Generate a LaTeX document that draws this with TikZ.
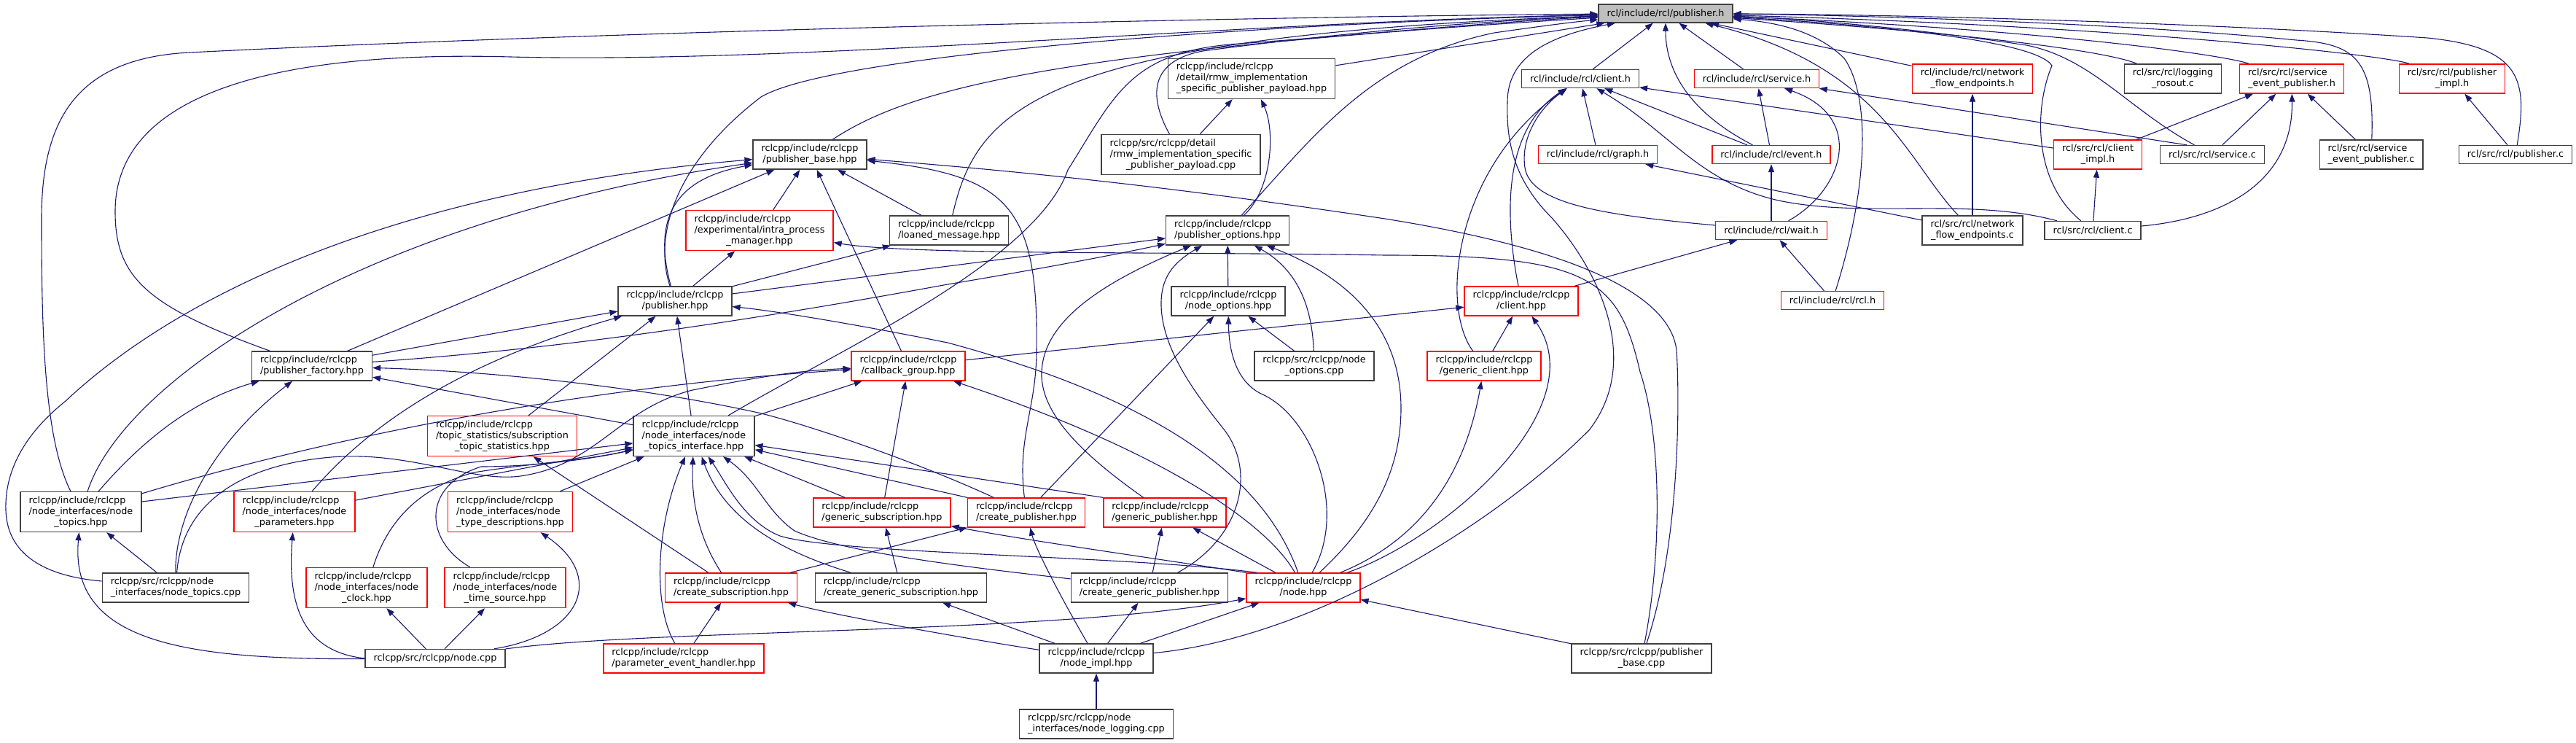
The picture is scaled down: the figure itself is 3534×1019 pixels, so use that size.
\documentclass[tikz,border=0pt]{standalone}
\usepackage{fontspec}
\setmainfont{DejaVu Sans}
\usepackage{tikz}
\usetikzlibrary{arrows.meta}

\definecolor{edgeblue}{HTML}{191970}
\definecolor{boxgrey}{HTML}{404040}
\definecolor{rootfill}{HTML}{BFBFBF}

% file labels: all lines left aligned, the last one centred
\newcommand{\fl}[1]{\begin{tabular}{@{}l@{}}#1\end{tabular}}
\newcommand{\lastline}[1]{\multicolumn{1}{@{}c@{}}{#1}}

\begin{document}
\begin{tikzpicture}[x=1pt, y=-1pt,
    file/.style={draw=boxgrey, line width=1.4pt, inner xsep=11.5pt, inner ysep=5pt,
      minimum height=25pt, font=\fontsize{12.8}{15}\selectfont},
    trunc/.style={file, draw=red},
    root/.style={file, fill=rootfill},
    inc/.style={draw=edgeblue, line width=1.1pt, -{Triangle[length=11pt,width=8pt]}}]
  \useasboundingbox (0,0) rectangle (3534,1019);

  % the header itself
  \node[root] (pub) at (2285,18.5) {rcl/include/rcl/publisher.h};

  % first level
  \node[file]  (rmwhpp)   at (1717,108) {\fl{rclcpp/include/rclcpp\\/detail/rmw\_implementation\\\lastline{\_specific\_publisher\_payload.hpp}}};
  \node[file]  (clienth)  at (2168,108) {rcl/include/rcl/client.h};
  \node[trunc] (serviceh) at (2410,108) {rcl/include/rcl/service.h};
  \node[trunc] (nfeh)     at (2706,108) {\fl{rcl/include/rcl/network\\\lastline{\_flow\_endpoints.h}}};
  \node[file]  (rosout)   at (2981,108) {\fl{rcl/src/rcl/logging\\\lastline{\_rosout.c}}};
  \node[trunc] (seph)     at (3144,108) {\fl{rcl/src/rcl/service\\\lastline{\_event\_publisher.h}}};
  \node[trunc] (pubimplh) at (3364,108) {\fl{rcl/src/rcl/publisher\\\lastline{\_impl.h}}};

  \node[file]  (pubbase)    at (1111,212) {\fl{rclcpp/include/rclcpp\\\lastline{/publisher\_base.hpp}}};
  \node[file]  (rmwcpp)     at (1620,212) {\fl{rclcpp/src/rclcpp/detail\\/rmw\_implementation\_specific\\\lastline{\_publisher\_payload.cpp}}};
  \node[trunc] (graphh)     at (2192,212) {rcl/include/rcl/graph.h};
  \node[trunc] (eventh)     at (2430,212) {rcl/include/rcl/event.h};
  \node[trunc] (clientimpl) at (2878,212) {\fl{rcl/src/rcl/client\\\lastline{\_impl.h}}};
  \node[file]  (servicec)   at (3035,212) {rcl/src/rcl/service.c};
  \node[file]  (sepc)       at (3253,212) {\fl{rcl/src/rcl/service\\\lastline{\_event\_publisher.c}}};
  \node[file]  (pubc)       at (3451,212) {rcl/src/rcl/publisher.c};

  \node[trunc] (ipm)     at (1042,316) {\fl{rclcpp/include/rclcpp\\/experimental/intra\_process\\\lastline{\_manager.hpp}}};
  \node[file]  (loaned)  at (1302,316) {\fl{rclcpp/include/rclcpp\\\lastline{/loaned\_message.hpp}}};
  \node[file]  (pubopts) at (1684,316) {\fl{rclcpp/include/rclcpp\\\lastline{/publisher\_options.hpp}}};
  \node[trunc] (waith)   at (2430,316) {rcl/include/rcl/wait.h};
  \node[file]  (nfec)    at (2706,316) {\fl{rcl/src/rcl/network\\\lastline{\_flow\_endpoints.c}}};
  \node[file]  (clientc) at (2871,316) {rcl/src/rcl/client.c};

  \node[file]  (publisher) at (926,413)  {\fl{rclcpp/include/rclcpp\\\lastline{/publisher.hpp}}};
  \node[file]  (nodeopts)  at (1685,413) {\fl{rclcpp/include/rclcpp\\\lastline{/node\_options.hpp}}};
  \node[trunc] (clienthpp) at (2087,413) {\fl{rclcpp/include/rclcpp\\\lastline{/client.hpp}}};
  \node[trunc] (rclh)      at (2514,412) {rcl/include/rcl/rcl.h};

  \node[file]  (pubfactory)  at (428,502)  {\fl{rclcpp/include/rclcpp\\\lastline{/publisher\_factory.hpp}}};
  \node[trunc] (cbgroup)     at (1246,502) {\fl{rclcpp/include/rclcpp\\\lastline{/callback\_group.hpp}}};
  \node[file]  (nodeoptscpp) at (1803,502) {\fl{rclcpp/src/rclcpp/node\\\lastline{\_options.cpp}}};
  \node[trunc] (genclient)   at (2036,502) {\fl{rclcpp/include/rclcpp\\\lastline{/generic\_client.hpp}}};

  \node[trunc] (topicstats) at (689,598) {\fl{rclcpp/include/rclcpp\\/topic\_statistics/subscription\\\lastline{\_topic\_statistics.hpp}}};
  \node[file]  (ntif)       at (952,598) {\fl{rclcpp/include/rclcpp\\/node\_interfaces/node\\\lastline{\_topics\_interface.hpp}}};

  \node[file]  (nodetopics) at (111,702)  {\fl{rclcpp/include/rclcpp\\/node\_interfaces/node\\\lastline{\_topics.hpp}}};
  \node[trunc] (nodeparams) at (404,702)  {\fl{rclcpp/include/rclcpp\\/node\_interfaces/node\\\lastline{\_parameters.hpp}}};
  \node[trunc] (typedesc)   at (700,702)  {\fl{rclcpp/include/rclcpp\\/node\_interfaces/node\\\lastline{\_type\_descriptions.hpp}}};
  \node[trunc] (gensub)     at (1210,703) {\fl{rclcpp/include/rclcpp\\\lastline{/generic\_subscription.hpp}}};
  \node[trunc] (createpub)  at (1408,703) {\fl{rclcpp/include/rclcpp\\\lastline{/create\_publisher.hpp}}};
  \node[trunc] (genpub)     at (1598,703) {\fl{rclcpp/include/rclcpp\\\lastline{/generic\_publisher.hpp}}};

  \node[file]  (nodetopicscpp) at (241,806)  {\fl{rclcpp/src/rclcpp/node\\\lastline{\_interfaces/node\_topics.cpp}}};
  \node[trunc] (nodeclock)     at (503,806)  {\fl{rclcpp/include/rclcpp\\/node\_interfaces/node\\\lastline{\_clock.hpp}}};
  \node[trunc] (timesource)    at (693,806)  {\fl{rclcpp/include/rclcpp\\/node\_interfaces/node\\\lastline{\_time\_source.hpp}}};
  \node[trunc] (createsub)     at (1003,806) {\fl{rclcpp/include/rclcpp\\\lastline{/create\_subscription.hpp}}};
  \node[file]  (creategensub)  at (1236,806) {\fl{rclcpp/include/rclcpp\\\lastline{/create\_generic\_subscription.hpp}}};
  \node[file]  (creategenpub)  at (1577,806) {\fl{rclcpp/include/rclcpp\\\lastline{/create\_generic\_publisher.hpp}}};
  \node[trunc] (nodehpp)       at (1788,806) {\fl{rclcpp/include/rclcpp\\\lastline{/node.hpp}}};

  \node[file]  (nodecpp)    at (597,903)  {rclcpp/src/rclcpp/node.cpp};
  \node[trunc] (peh)        at (938,903)  {\fl{rclcpp/include/rclcpp\\\lastline{/parameter\_event\_handler.hpp}}};
  \node[file]  (nodeimpl)   at (1504,903) {\fl{rclcpp/include/rclcpp\\\lastline{/node\_impl.hpp}}};
  \node[file]  (pubbasecpp) at (2252,903) {\fl{rclcpp/src/rclcpp/publisher\\\lastline{\_base.cpp}}};

  \node[file]  (nodelogging) at (1504,993) {\fl{rclcpp/src/rclcpp/node\\\lastline{\_interfaces/node\_logging.cpp}}};

  % includers of rcl/publisher.h
  \draw[inc] (nodetopics) .. controls (60,600) and (57,450) .. (57,300) .. controls (57,170) and (100,80) .. (260,72) .. controls (900,40) and (1800,22) .. (pub);
  \draw[inc] (pubfactory) .. controls (200,420) and (158,380) .. (158,290) .. controls (158,120) and (400,70) .. (700,78) .. controls (1100,88) and (1700,30) .. (pub);
  \draw[inc] (publisher) .. controls (895,320) and (930,220) .. (1044,133) .. controls (1150,70) and (1800,30) .. (pub);
  \draw[inc] (pubbase) .. controls (1250,120) and (1450,70) .. (pub);
  \draw[inc] (loaned) .. controls (1340,150) and (1420,50) .. (pub);
  \draw[inc] (ntif) .. controls (1150,480) and (1420,360) .. (1465,233) .. controls (1530,130) and (1550,70) .. (1700,60) .. controls (1900,45) and (2050,30) .. (pub);
  \draw[inc] (rmwcpp) .. controls (1580,140) and (1570,85) .. (1650,70) .. controls (1800,50) and (2000,30) .. (pub);
  \draw[inc] (rmwhpp) -- (pub);
  \draw[inc] (pubopts) .. controls (1800,190) and (1880,80) .. (2050,45) .. controls (2120,35) and (2160,30) .. (pub);
  \draw[inc] (nodeimpl) .. controls (1800,875) and (2050,720) .. (2180,590) .. controls (2250,500) and (2200,380) .. (2130,300) .. controls (2080,250) and (2066,200) .. (2068,140) .. controls (2068,80) and (2120,50) .. (pub);
  \draw[inc] (clienth) -- (pub);
  \draw[inc] (eventh) .. controls (2310,150) and (2285,90) .. (pub);
  \draw[inc] (serviceh) -- (pub);
  \draw[inc] (nfeh) -- (pub);
  \draw[inc] (rosout) .. controls (2890,70) and (2700,45) .. (pub);
  \draw[inc] (seph) .. controls (3050,75) and (2800,40) .. (pub);
  \draw[inc] (pubimplh) .. controls (3270,75) and (2900,35) .. (pub);
  \draw[inc] (pubc) .. controls (3468,110) and (3460,65) .. (3330,52) .. controls (3000,30) and (2600,20) .. (pub);
  \draw[inc] (sepc) .. controls (3258,80) and (3230,60) .. (3150,55) .. controls (2900,30) and (2500,20) .. (pub);
  \draw[inc] (servicec) .. controls (2920,150) and (2870,80) .. (2780,62) .. controls (2600,35) and (2450,25) .. (pub);
  \draw[inc] (clientc) .. controls (2790,250) and (2790,150) .. (2815,90) .. controls (2790,50) and (2500,30) .. (pub);
  \draw[inc] (nfec) .. controls (2615,220) and (2580,90) .. (pub);
  \draw[inc] (rclh) .. controls (2565,250) and (2565,130) .. (2530,80) .. controls (2490,40) and (2430,30) .. (pub);

  % rcl
  \draw[inc] (graphh) -- (clienth);
  \draw[inc] (eventh) -- (clienth);
  \draw[inc] (eventh) -- (serviceh);
  \draw[inc] (clientimpl) -- (clienth);
  \draw[inc] (clientimpl) -- (seph);
  \draw[inc] ([xshift=-35pt]servicec.north) -- (serviceh);
  \draw[inc] (servicec) -- (seph);
  \draw[inc] (sepc) -- (seph);
  \draw[inc] (pubc) -- (pubimplh);
  \draw[inc] (waith) .. controls (2200,295) and (2100,280) .. (2092,230) .. controls (2086,190) and (2110,150) .. (clienth);
  \draw[inc] (waith) .. controls (2530,260) and (2560,160) .. (serviceh);
  \draw[inc] (waith) -- (eventh);
  \draw[inc] (nfec) -- (nfeh);
  \draw[inc] (nfec) -- (graphh);
  \draw[inc] (clientc) .. controls (2700,270) and (2560,300) .. (2440,275) .. controls (2330,250) and (2290,180) .. (clienth);
  \draw[inc] (clientc) -- (clientimpl);
  \draw[inc] (clientc) .. controls (3050,300) and (3146,250) .. (seph);
  \draw[inc] (rclh) -- (waith);
  \draw[inc] (clienthpp) .. controls (2065,300) and (2060,180) .. (clienth);
  \draw[inc] (clienthpp) -- (waith);
  \draw[inc] (genclient) .. controls (1975,420) and (1995,230) .. (clienth);
  \draw[inc] (genclient) -- (clienthpp);

  % rclcpp
  \draw[inc] (nodetopicscpp) .. controls (60,790) and (10,760) .. (8,700) .. controls (6,640) and (40,590) .. (90,550) .. controls (250,400) and (550,260) .. (pubbase);
  \draw[inc] (nodetopics) .. controls (170,520) and (500,300) .. (pubbase);
  \draw[inc] (pubfactory) -- (pubbase);
  \draw[inc] (publisher) .. controls (895,300) and (925,245) .. (pubbase);
  \draw[inc] (ipm) -- (pubbase);
  \draw[inc] (cbgroup) -- (pubbase);
  \draw[inc] (loaned) -- (pubbase);
  \draw[inc] (pubbasecpp) .. controls (2303,750) and (2305,560) .. (2300,480) .. controls (2290,400) and (2150,340) .. (1900,300) .. controls (1600,255) and (1400,235) .. (pubbase);
  \draw[inc] (createpub) .. controls (1395,600) and (1422,560) .. (1422,480) .. controls (1425,280) and (1380,240) .. (pubbase);
  \draw[inc] (genpub) .. controls (1480,620) and (1420,560) .. (1430,500) .. controls (1440,430) and (1530,380) .. (pubopts);
  \draw[inc] (publisher) -- (ipm);
  \draw[inc] (pubbasecpp) .. controls (2280,760) and (2280,600) .. (2250,510) .. controls (2220,380) and (2180,350) .. (1900,350) .. controls (1600,345) and (1250,350) .. (ipm);
  \draw[inc] (publisher) -- (loaned);
  \draw[inc] (rmwcpp) -- (rmwhpp);
  \draw[inc] (pubopts) .. controls (1745,260) and (1750,180) .. (rmwhpp);
  \draw[inc] (publisher) -- (pubopts);
  \draw[inc] (pubfactory) .. controls (750,480) and (1000,445) .. (1300,390) .. controls (1450,365) and (1550,345) .. (pubopts);
  \draw[inc] (creategenpub) .. controls (1700,740) and (1725,650) .. (1680,590) .. controls (1640,540) and (1595,480) .. (1593,420) .. controls (1592,380) and (1610,360) .. (pubopts);
  \draw[inc] (nodeopts) -- (pubopts);
  \draw[inc] (nodeoptscpp) .. controls (1800,420) and (1780,370) .. (pubopts);
  \draw[inc] (nodehpp) .. controls (1880,720) and (1922,650) .. (1922,560) .. controls (1922,450) and (1850,380) .. (pubopts);
  \draw[inc] (createpub) -- (nodeopts);
  \draw[inc] (nodehpp) .. controls (1850,700) and (1800,570) .. (1730,540) .. controls (1700,525) and (1686,490) .. (nodeopts);
  \draw[inc] (nodeoptscpp) -- (nodeopts);
  \draw[inc] (cbgroup) -- (clienthpp);
  \draw[inc] (nodehpp) .. controls (1980,740) and (2190,560) .. (clienthpp);
  \draw[inc] (nodehpp) .. controls (1950,740) and (2010,650) .. (genclient);
  \draw[inc] (pubfactory) -- (publisher);
  \draw[inc] (nodeparams) .. controls (500,590) and (620,500) .. (publisher);
  \draw[inc] (topicstats) -- (publisher);
  \draw[inc] (ntif) -- (publisher);
  \draw[inc] (nodetopics) .. controls (190,610) and (260,550) .. (pubfactory);
  \draw[inc] (nodetopicscpp) .. controls (240,700) and (300,600) .. (pubfactory);
  \draw[inc] (ntif) -- (pubfactory);
  \draw[inc] (createpub) .. controls (1250,630) and (1100,580) .. (1040,566) .. controls (900,535) and (700,510) .. (pubfactory);
  \draw[inc] ([yshift=14pt]nodetopics.east) -- (ntif);
  \draw[inc] (nodetopics) .. controls (450,600) and (800,530) .. (cbgroup);
  \draw[inc] (nodetopicscpp) -- (nodetopics);
  \draw[inc] (nodetopicscpp) .. controls (250,690) and (330,640) .. (444,628) .. controls (560,615) and (650,665) .. (720,652) .. controls (820,635) and (850,560) .. (950,535) .. controls (1050,515) and (1100,508) .. (cbgroup);
  \draw[inc] (nodecpp) .. controls (250,905) and (95,880) .. (nodetopics);
  \draw[inc] (nodecpp.west) .. controls (430,895) and (392,850) .. (nodeparams);
  \draw[inc] (nodecpp) -- (nodeclock);
  \draw[inc] (nodecpp) -- (timesource);
  \draw[inc] (nodecpp) .. controls (800,870) and (830,790) .. (typedesc);
  \draw[inc] (nodecpp) .. controls (900,862) and (1450,870) .. (nodehpp);
  \draw[inc] (nodeparams) -- (ntif);
  \draw[inc] (typedesc) -- (ntif);
  \draw[inc] (nodeclock) .. controls (530,720) and (570,670) .. (650,648) .. controls (730,635) and (800,632) .. (ntif);
  \draw[inc] (timesource) .. controls (580,740) and (580,665) .. (660,640) .. controls (730,640) and (810,630) .. (ntif);
  \draw[inc] (ntif) -- (cbgroup);
  \draw[inc] (createsub) -- (topicstats);
  \draw[inc] (createsub) .. controls (960,740) and (948,690) .. (ntif);
  \draw[inc] (createsub) -- (createpub);
  \draw[inc] (peh) .. controls (895,830) and (900,720) .. (ntif);
  \draw[inc] (peh) -- (createsub);
  \draw[inc] (creategensub) .. controls (1050,750) and (990,700) .. (ntif);
  \draw[inc] (creategensub) -- (gensub);
  \draw[inc] (gensub) -- (ntif);
  \draw[inc] (gensub) -- (cbgroup);
  \draw[inc] (creategenpub) -- (genpub);
  \draw[inc] (creategenpub) .. controls (1300,775) and (1150,755) .. (1090,728) .. controls (1050,700) and (1040,660) .. (ntif);
  \draw[inc] (genpub.north west) -- (ntif);
  \draw[inc] (createpub.north west) -- (ntif);
  \draw[inc] (nodeimpl) .. controls (1450,810) and (1420,750) .. (createpub);
  \draw[inc] (nodeimpl) -- (creategenpub);
  \draw[inc] (nodeimpl) -- (creategensub);
  \draw[inc] (nodeimpl) .. controls (1350,880) and (1150,845) .. (createsub);
  \draw[inc] (nodeimpl) -- (nodehpp);
  \draw[inc] (nodelogging) -- (nodeimpl);
  \draw[inc] (nodehpp) .. controls (1740,720) and (1600,620) .. (cbgroup);
  \draw[inc] (nodehpp) .. controls (1730,640) and (1560,540) .. (1300,470) .. controls (1150,440) and (1050,425) .. (publisher);
  \draw[inc] (nodehpp.north west) .. controls (1600,768) and (1400,740) .. (gensub);
  \draw[inc] ([xshift=15pt]nodehpp.north west) .. controls (1550,762) and (1150,760) .. (1070,735) .. controls (1020,715) and (995,660) .. (ntif);
  \draw[inc] (nodehpp) -- (genpub);
  \draw[inc] (pubbasecpp) -- (nodehpp);
\end{tikzpicture}
\end{document}
